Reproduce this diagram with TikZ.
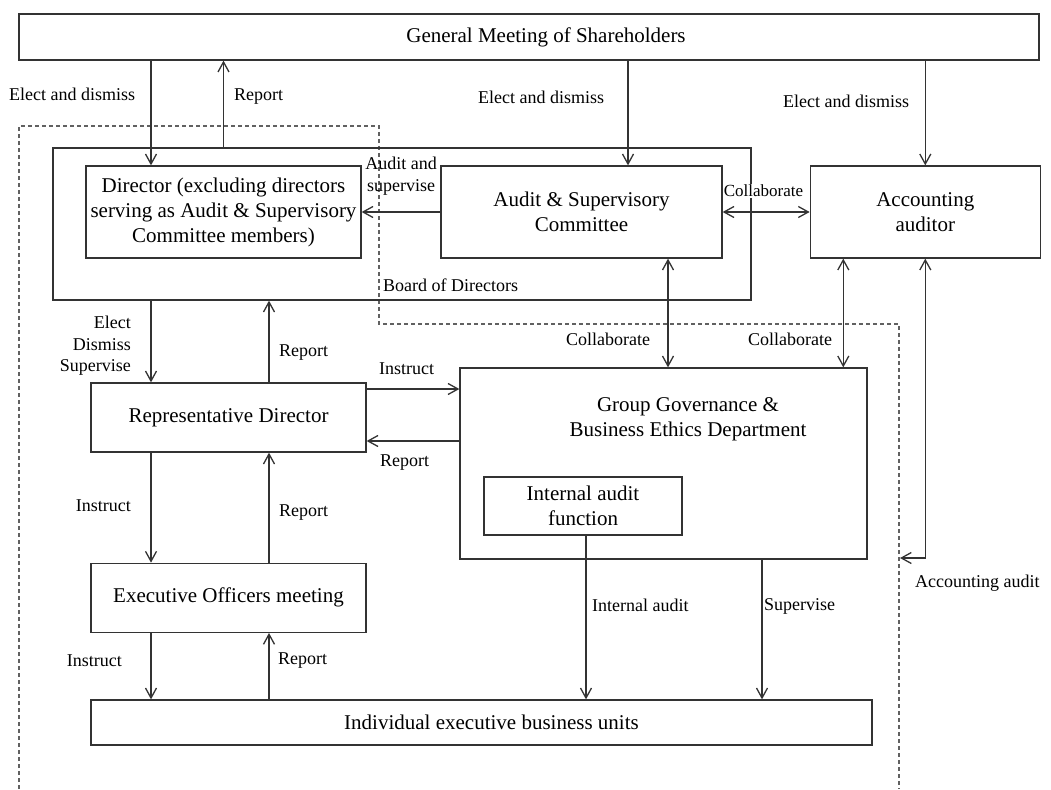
\documentclass[tikz,border=0pt]{standalone}
\usepackage{fontspec}
\setmainfont{Liberation Serif}
\usetikzlibrary{arrows.meta,positioning}

\begin{document}
\begin{tikzpicture}[
  x=1pt, y=-1pt,
  box/.style={rectangle, draw=black!80, line width=1.3pt, align=center, inner sep=0pt, font=\fontsize{21}{25}\selectfont},
  lbl/.style={inner sep=0pt, align=center, font=\fontsize{18}{21.6}\selectfont},
  small/.style={inner sep=1pt, fill=white, font=\fontsize{17}{20}\selectfont},
  arrow/.style={-{Straight Barb[length=10pt, width=11pt]}, line width=1.3pt, draw=black!80},
  both/.style={{Straight Barb[length=10pt, width=11pt]}-{Straight Barb[length=10pt, width=11pt]}, line width=1.3pt, draw=black!80},
  board/.style={draw=black!62, dash pattern=on 4pt off 3pt, line width=1.3pt}
]
  \useasboundingbox (0,0) rectangle (1051,789);
  \draw[board] (19,789) -- (19,126) -- (379,126) -- (379,324) -- (899,324) -- (899,789);

  \node[box, minimum width=1020pt, minimum height=46pt] (gms) at (529,37) {\hspace*{34pt}General Meeting of Shareholders};
  \node[box, minimum width=698pt, minimum height=152pt] (bod) at (402,224) {};
  \node[box, minimum width=275pt, minimum height=92pt] (dir) at (223.5,212) {Director (excluding directors\\serving as Audit \& Supervisory\\Committee members)};
  \node[box, minimum width=281pt, minimum height=92pt] (asc) at (581.5,212) {Audit \& Supervisory\\Committee};
  \node[box, minimum width=230pt, minimum height=92pt, right=87pt of asc] (aa) {Accounting\\auditor};
  \node[box, minimum width=275pt, minimum height=69pt] (rd) at (228.5,417.5) {Representative Director};
  \node[box, minimum width=275pt, minimum height=69pt, below=110pt of rd] (eom) {Executive Officers meeting};
  \node[box, minimum width=781pt, minimum height=45pt] (iebu) at (481.5,722.5) {\hspace*{20pt}Individual executive business units};
  \node[box, minimum width=407pt, minimum height=191pt] (gg) at (663.5,463.5) {};
  \node[box, draw=none] (ggt) at (688,419) {Group Governance \&\\Business Ethics Department};
  \node[box, minimum width=198pt, minimum height=58pt] (iaf) at (583,506) {Internal audit\\function};

  % shareholders
  \draw[arrow] ([xshift=-72.5pt]dir.north |- gms.south) -- ([xshift=-72.5pt]dir.north);
  \draw[arrow] (dir.north |- bod.north) -- (dir.north |- gms.south);
  \draw[arrow] ([xshift=46.5pt]asc.north |- gms.south) -- ([xshift=46.5pt]asc.north);
  \draw[arrow] (aa.north |- gms.south) -- (aa.north);
  \node[lbl, anchor=west] (ed1) at (9,94) {Elect and dismiss};
  \node[lbl, anchor=west] (rep1) at (234,97) {Report};
  \node[lbl, anchor=west] (ed2) at (478,97) {Elect and dismiss};
  \node[lbl, anchor=west] (ed3) at (783,101) {Elect and dismiss};

  % board
  \draw[arrow] (asc.west) -- (dir.east);
  \draw[both] (asc.east) -- (aa.west);
  \node[lbl] (aus) at (401,176) {Audit and\\supervise};
  \node[small] (col1) at (763.5,191) {Collaborate};
  \node[lbl, anchor=west] (bodl) at (383,285) {Board of Directors};
  \draw[arrow] ([xshift=-77.5pt]rd.north |- bod.south) -- ([xshift=-77.5pt]rd.north);
  \draw[arrow] ([xshift=40.5pt]rd.north) -- ([xshift=40.5pt]rd.north |- bod.south);
  \node[lbl, anchor=east, align=right] (eds) at (131,346) {Elect\\Dismiss\\Supervise};
  \node[lbl, anchor=west] (rep2) at (279,353) {Report};

  % governance department
  \draw[arrow] ([yshift=28.5pt]rd.east) -- ([yshift=28.5pt]rd.east -| gg.west);
  \draw[arrow] ([yshift=-23.5pt]rd.east -| gg.west) -- ([yshift=-23.5pt]rd.east);
  \draw[both] ([xshift=86.5pt]asc.south) -- ([xshift=86.5pt]asc.south |- gg.north);
  \draw[both] ([xshift=-82pt]aa.south) -- ([xshift=-82pt]aa.south |- gg.north);
  \coordinate (acc) at (900,558);
  \draw[both] (aa.south) |- (acc);
  \node[lbl, anchor=west] (ins1) at (379,369) {Instruct};
  \node[lbl, anchor=west] (rep3) at (380,463) {Report};
  \node[lbl, anchor=west] (col2) at (566,339) {Collaborate};
  \node[lbl, anchor=west] (col3) at (748,339) {Collaborate};
  \node[lbl, anchor=west] (acca) at (915,583) {Accounting audit};

  % executive side
  \draw[arrow] ([xshift=-77.5pt]rd.south) -- ([xshift=-77.5pt]rd.south |- eom.north);
  \draw[arrow] ([xshift=40.5pt]eom.north) -- ([xshift=40.5pt]eom.north |- rd.south);
  \draw[arrow] ([xshift=-77.5pt]eom.south) -- ([xshift=-77.5pt]eom.south |- iebu.north);
  \draw[arrow] ([xshift=40.5pt]eom.south |- iebu.north) -- ([xshift=40.5pt]eom.south);
  \draw[arrow] ([xshift=3pt]iaf.south) -- ([xshift=3pt]iaf.south |- iebu.north);
  \draw[arrow] ([xshift=98.5pt]gg.south) -- ([xshift=98.5pt]gg.south |- iebu.north);
  \node[lbl, anchor=east] (ins2) at (131,506) {Instruct};
  \node[lbl, anchor=west] (rep4) at (279,513) {Report};
  \node[lbl, anchor=east] (ins3) at (122,661) {Instruct};
  \node[lbl, anchor=west] (rep5) at (278,661) {Report};
  \node[lbl, anchor=west] (ia) at (592,605) {Internal audit};
  \node[lbl, anchor=west] (sup) at (764,606) {Supervise};
\end{tikzpicture}
\end{document}
